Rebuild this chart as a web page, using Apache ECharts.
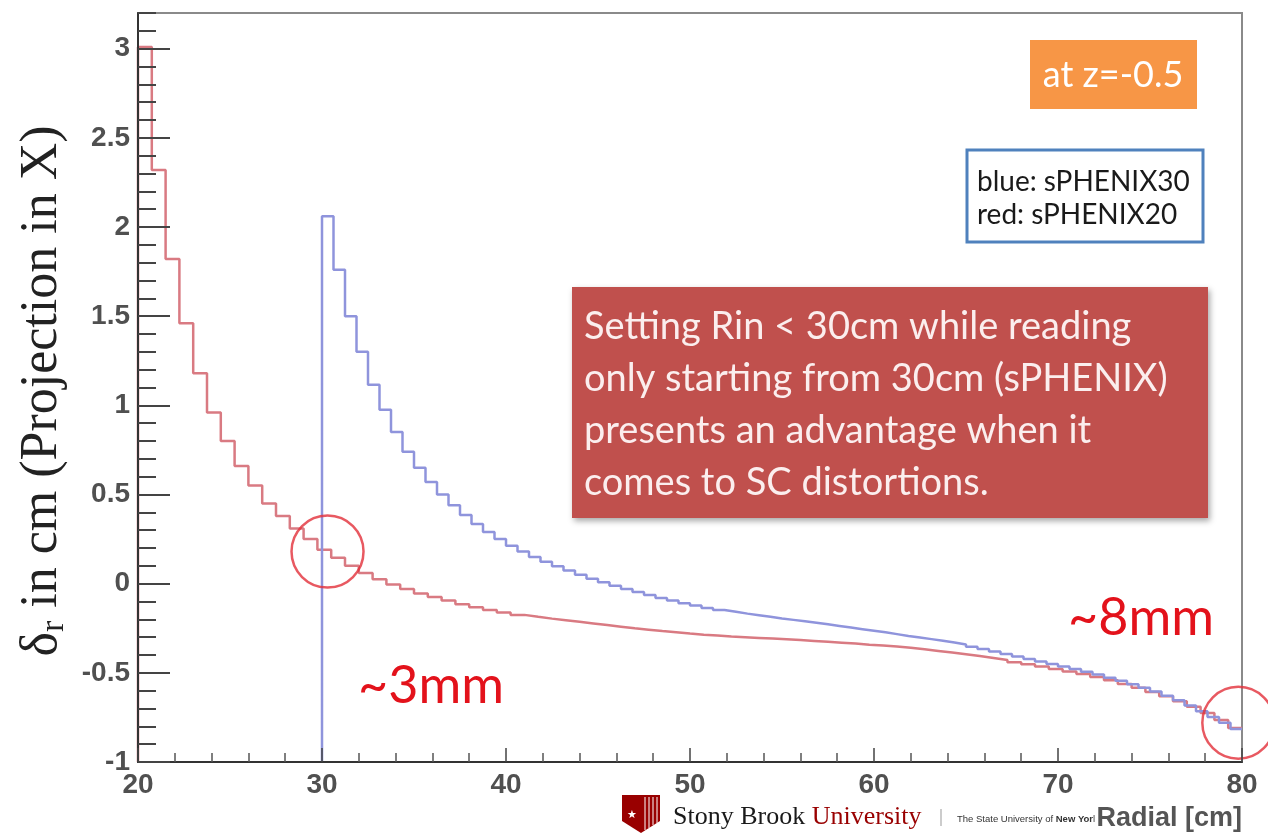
<!DOCTYPE html>
<html>
<head>
<meta charset="utf-8">
<script src="https://cdn.jsdelivr.net/npm/echarts@6.0.0/dist/echarts.min.js"></script>
<style>
  html, body { margin: 0; padding: 0; background: #ffffff; }
  #chart { width: 1268px; height: 833px; }
</style>
</head>
<body>
<div id="chart"></div>
<script>
// Radial distortion delta_r (projection in X) at z = -0.5, two TPC inner radii.

// Histogram ranges (cm); each histogram has one value per bin.
const RED_RANGE = [20, 80];   // sPHENIX20
const BLUE_RANGE = [30, 80];  // sPHENIX30

// Axis ranges and tick values
const X_RANGE = [20, 80];
const Y_RANGE = [-1, 3.2];
const Y_MAJOR_TICKS = [-1, -0.5, 0, 0.5, 1, 1.5, 2, 2.5, 3];

// sPHENIX20: delta_r per bin (cm), 80 bins from 20 to 80 cm
const redValues = [
  3.01, 2.32, 1.82, 1.46, 1.18, 0.96, 0.80, 0.66, 0.55, 0.45,
  0.38, 0.31, 0.25, 0.19, 0.145, 0.10, 0.06, 0.025, -0.005, -0.03,
  -0.055, -0.075, -0.095, -0.115, -0.132, -0.148, -0.162, -0.175, -0.186, -0.196,
  -0.205, -0.214, -0.223, -0.232, -0.241, -0.25, -0.258, -0.266, -0.273, -0.28,
  -0.286, -0.291, -0.296, -0.30, -0.304, -0.308, -0.312, -0.316, -0.321, -0.326,
  -0.331, -0.336, -0.342, -0.347, -0.353, -0.36, -0.368, -0.377, -0.386, -0.396,
  -0.406, -0.417, -0.428, -0.44, -0.452, -0.465, -0.478, -0.492, -0.507, -0.524,
  -0.542, -0.562, -0.584, -0.607, -0.632, -0.66, -0.69, -0.725, -0.765, -0.81
];

// sPHENIX30: delta_r per bin (cm), 80 bins from 30 to 80 cm
const blueValues = [
  2.06, 1.76, 1.50, 1.30, 1.115, 0.975, 0.85, 0.74, 0.65, 0.57,
  0.50, 0.44, 0.385, 0.335, 0.29, 0.25, 0.213, 0.18, 0.15, 0.123,
  0.098, 0.074, 0.05, 0.028, 0.008, -0.012, -0.03, -0.047, -0.064, -0.08,
  -0.095, -0.11, -0.123, -0.136, -0.148, -0.158, -0.168, -0.177, -0.186, -0.195,
  -0.203, -0.211, -0.219, -0.228, -0.237, -0.246, -0.255, -0.264, -0.273, -0.283,
  -0.293, -0.302, -0.311, -0.32, -0.33, -0.341, -0.354, -0.367, -0.381, -0.395,
  -0.409, -0.423, -0.437, -0.451, -0.465, -0.479, -0.494, -0.51, -0.527, -0.545,
  -0.564, -0.584, -0.605, -0.628, -0.654, -0.683, -0.715, -0.748, -0.78, -0.815
];

// Highlighted spots (circles) in data coordinates
const markedSpots = [[30.3, 0.18], [79.8, -0.78]];

// Turn bin contents into a step outline: rises from the frame floor at the
// first low edge, then one horizontal run per bin, ending at the high edge.
function histOutline(range, values, floor) {
  const width = (range[1] - range[0]) / values.length;
  const pts = [[range[0], floor]];
  values.forEach((v, i) => pts.push([range[0] + i * width, v]));
  pts.push([range[1], values[values.length - 1]]);
  return pts;
}

const chart = echarts.init(document.getElementById('chart'), null, { renderer: 'canvas' });

const tickFont = { fontFamily: 'Liberation Sans', fontSize: 28, fontWeight: 'bold', color: '#505050' };

const option = {
  backgroundColor: '#ffffff',
  animation: false,
  grid: {
    left: 138, top: 13, width: 1104, height: 749,
    show: true, borderColor: '#8a8a8a', borderWidth: 2, backgroundColor: 'transparent'
  },
  xAxis: {
    type: 'value', min: X_RANGE[0], max: X_RANGE[1], interval: 10,
    z: 5,
    axisLine: { show: true, onZero: false, lineStyle: { color: '#333', width: 2 } },
    axisTick: { show: true, inside: true, length: 14, lineStyle: { color: '#444', width: 1.5 } },
    minorTick: { show: true, splitNumber: 5, length: 9, lineStyle: { color: '#555', width: 1.5 } },
    axisLabel: Object.assign({ margin: 9 }, tickFont),
    splitLine: { show: false }, minorSplitLine: { show: false }
  },
  yAxis: [
    { // fine ticks every 0.1
      type: 'value', min: Y_RANGE[0], max: Y_RANGE[1], interval: 0.1, position: 'left',
      z: 5,
      axisLine: { show: true, onZero: false, lineStyle: { color: '#333', width: 2 } },
      axisTick: { show: true, inside: true, length: 18, lineStyle: { color: '#444', width: 2 } },
      axisLabel: { show: false },
      splitLine: { show: false }
    },
    { // labelled ticks every 0.5
      type: 'value', min: Y_RANGE[0], max: Y_RANGE[1], interval: 0.5, position: 'left', offset: 0,
      z: 5,
      axisLine: { show: false, onZero: false },
      axisTick: { show: true, inside: true, length: 32, customValues: Y_MAJOR_TICKS,
                  lineStyle: { color: '#444', width: 2 } },
      axisLabel: Object.assign({ margin: 8, customValues: Y_MAJOR_TICKS,
                  formatter: v => String(v) }, tickFont),
      splitLine: { show: false }
    }
  ],
  series: [
    {
      name: 'sPHENIX20', type: 'line', step: 'end', showSymbol: false,
      data: histOutline(RED_RANGE, redValues, Y_RANGE[0]),
      lineStyle: { color: '#d97a82', width: 2.5 }, z: 2
    },
    {
      name: 'sPHENIX30', type: 'line', step: 'end', showSymbol: false,
      data: histOutline(BLUE_RANGE, blueValues, Y_RANGE[0]),
      lineStyle: { color: '#8f94dc', width: 2.5 }, z: 3
    },
    {
      type: 'scatter', data: markedSpots, symbol: 'circle', symbolSize: 72, clip: false, silent: true,
      itemStyle: { color: 'rgba(0,0,0,0)', borderColor: '#e2303a', borderWidth: 2.5 }, z: 4
    }
  ],
  graphic: [
    // y-axis title
    {
      type: 'text', x: 42, y: 391, rotation: Math.PI / 2,
      style: {
        text: '{d|δ}{s|r}{t| in cm (Projection in X)}',
        align: 'center', verticalAlign: 'middle',
        rich: {
          d: { fontFamily: 'Liberation Serif', fontSize: 52, lineHeight: 58, fill: '#222' },
          s: { fontFamily: 'Liberation Serif', fontSize: 34, lineHeight: 22, verticalAlign: 'bottom', fill: '#222' },
          t: { fontFamily: 'Liberation Serif', fontSize: 52, lineHeight: 58, fill: '#222' }
        }
      }
    },
    // condition tag
    { type: 'rect', shape: { x: 1030, y: 40, width: 167, height: 69 }, style: { fill: '#f79646' } },
    { type: 'text', x: 1113, y: 75, style: { text: 'at z=-0.5', align: 'center', verticalAlign: 'middle',
      font: '36px Lato', fill: '#ffffff' } },
    // colour key
    { type: 'rect', shape: { x: 967, y: 150, width: 236, height: 92 },
      style: { fill: '#ffffff', stroke: '#4f81bd', lineWidth: 3 } },
    { type: 'text', x: 977, y: 182, style: { text: 'blue: sPHENIX30', verticalAlign: 'middle',
      font: '28px Lato', fill: '#1a1a1a' } },
    { type: 'text', x: 977, y: 215, style: { text: 'red: sPHENIX20', verticalAlign: 'middle',
      font: '28px Lato', fill: '#1a1a1a' } },
    // comment box
    { type: 'rect', shape: { x: 572, y: 287, width: 636, height: 231 },
      style: { fill: '#c0504d', shadowBlur: 6, shadowOffsetX: 2, shadowOffsetY: 3, shadowColor: 'rgba(0,0,0,0.35)' } },
    { type: 'text', x: 584, y: 301, style: {
      text: 'Setting Rin < 30cm while reading\nonly starting from 30cm (sPHENIX)\npresents an advantage when it\ncomes to SC distortions.',
      font: '38px Lato', lineHeight: 52, fill: '#fbeeee' } },
    // magnitudes
    { type: 'text', x: 431, y: 686, style: { text: '~3mm', align: 'center', verticalAlign: 'middle',
      font: '52px Lato', fill: '#e3121b' } },
    { type: 'text', x: 1141, y: 618, style: { text: '~8mm', align: 'center', verticalAlign: 'middle',
      font: '52px Lato', fill: '#e3121b' } },
    // footer logo
    { type: 'polygon', shape: { points: [[622, 795], [660, 795], [660, 821], [641, 833], [622, 821]] },
      style: { fill: '#990000' } },
    { type: 'text', x: 632, y: 815, style: { text: '★', align: 'center', verticalAlign: 'middle',
      font: '11px DejaVu Sans', fill: '#ffffff' } },
    { type: 'polyline', shape: { points: [[645, 797], [645, 830]] }, style: { stroke: '#ffffff', lineWidth: 1 } },
    { type: 'polyline', shape: { points: [[649, 797], [649, 828]] }, style: { stroke: '#ffffff', lineWidth: 1 } },
    { type: 'polyline', shape: { points: [[653, 797], [653, 825]] }, style: { stroke: '#ffffff', lineWidth: 1 } },
    { type: 'polyline', shape: { points: [[657, 797], [657, 823]] }, style: { stroke: '#ffffff', lineWidth: 1 } },
    { type: 'text', x: 673, y: 817, style: {
      text: '{a|Stony Brook }{b|University}', verticalAlign: 'middle',
      rich: {
        a: { fontFamily: 'Liberation Serif', fontSize: 26, fill: '#1a1a1a' },
        b: { fontFamily: 'Liberation Serif', fontSize: 26, fill: '#990000' }
      } } },
    { type: 'polyline', shape: { points: [[941, 809], [941, 826]] }, style: { stroke: '#999', lineWidth: 1 } },
    { type: 'text', x: 957, y: 819, style: {
      text: '{a|The State University of }{b|New York}', verticalAlign: 'middle',
      rich: {
        a: { fontFamily: 'Liberation Sans', fontSize: 9.5, fill: '#333' },
        b: { fontFamily: 'Liberation Sans', fontSize: 9.5, fontWeight: 'bold', fill: '#333' }
      } } },
    // x-axis title
    { type: 'text', x: 1242, y: 819, z: 10, style: { text: 'Radial [cm]', align: 'right', verticalAlign: 'middle',
      font: 'bold 27px Liberation Sans', fill: '#555555', backgroundColor: '#ffffff', padding: [0, 0, 0, 2] } }
  ]
};

chart.setOption(option);
</script>
</body>
</html>
